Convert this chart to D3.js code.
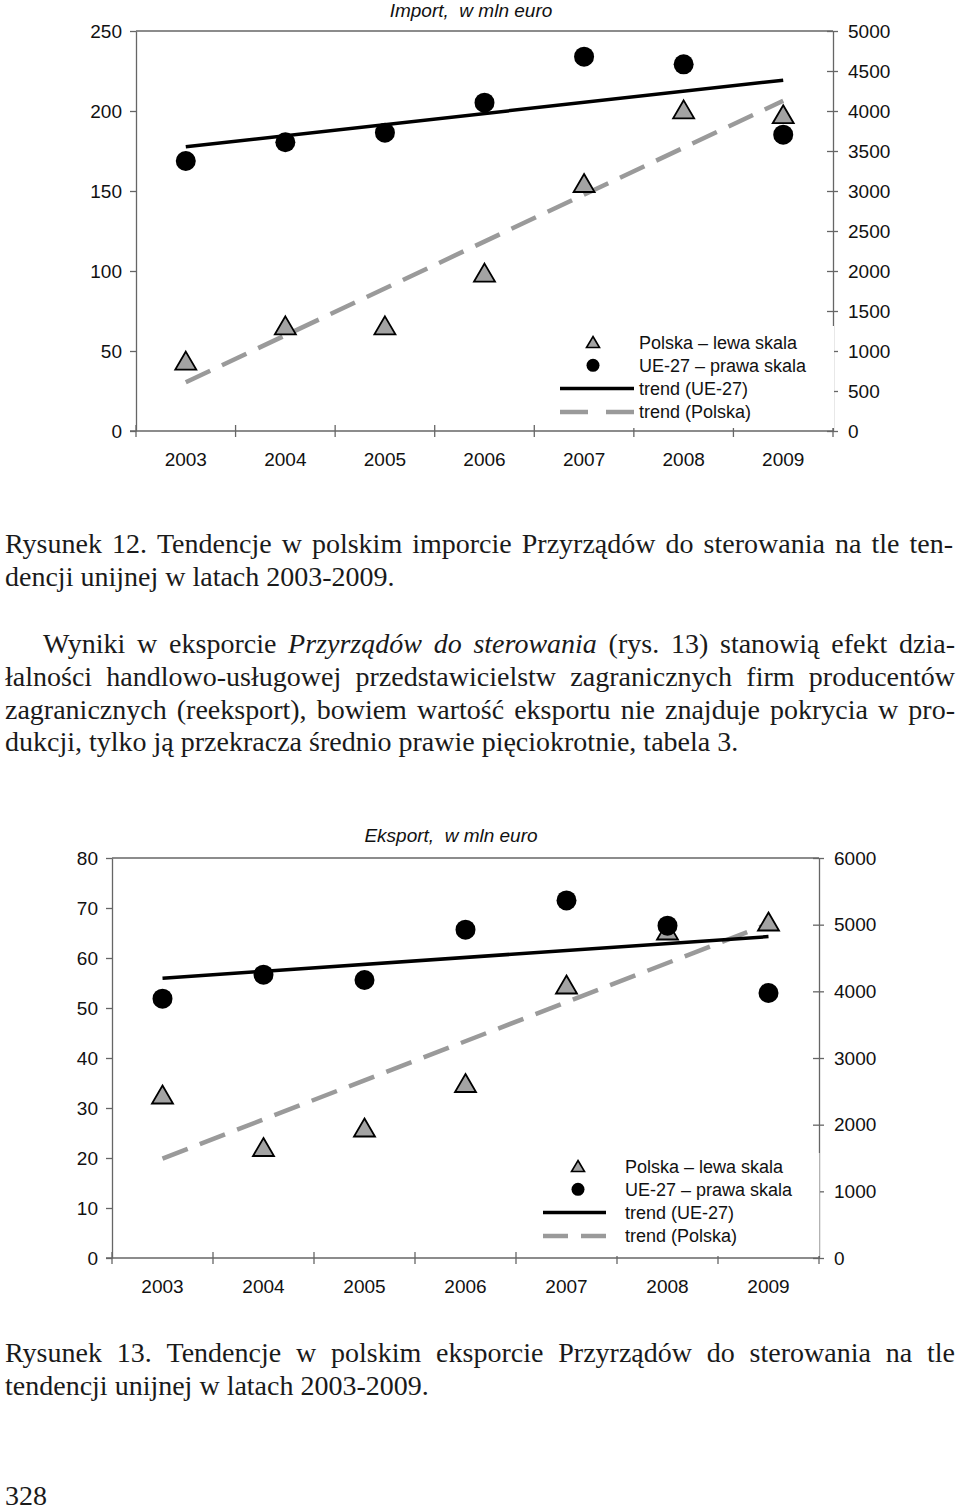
<!DOCTYPE html>
<html>
<head>
<meta charset="utf-8">
<script src="https://cdn.jsdelivr.net/npm/d3@7"></script>
<style>
  body { margin: 0; background: #fff; }
  svg { display: block; }
  .ax text { font-family: "Liberation Sans", Arial, sans-serif; font-size: 19px; fill: #111; }
  .ax path, .ax line { stroke: #666; stroke-width: 1.3; }
</style>
</head>
<body>
<script>
// --- data ---
const years = ["2003", "2004", "2005", "2006", "2007", "2008", "2009"];

const importPolska = [44, 66, 66, 99, 155, 201, 198];
const importUE = [3375, 3609, 3729, 4104, 4679, 4583, 3704];
const importLeftTicks = [0, 50, 100, 150, 200, 250];
const importRightTicks = [0, 500, 1000, 1500, 2000, 2500, 3000, 3500, 4000, 4500, 5000];

const exportPolska = [32.7, 22.2, 26.1, 35, 54.7, 65.5, 67.3];
const exportUE = [3890, 4250, 4170, 4925, 5364, 4985, 3975];
const exportLeftTicks = [0, 10, 20, 30, 40, 50, 60, 70, 80];
const exportRightTicks = [0, 1000, 2000, 3000, 4000, 5000, 6000];

const legendLabels = ["Polska – lewa skala", "UE-27 – prawa skala", "trend (UE-27)", "trend (Polska)"];

const svg = d3.select("body").append("svg").attr("width", 960).attr("height", 1510);
svg.append("rect").attr("width", 960).attr("height", 1510).attr("fill", "#fff");

const triFill = "#a3a3a3";
const dashGray = "#9a9a9a";

function triangle(w, h) {
  return `M0,${-h / 2}L${w / 2},${h / 2}L${-w / 2},${h / 2}Z`;
}

// simple least squares trend, like Excel's linear trendline
function trend(values) {
  const n = values.length;
  const mx = (n - 1) / 2;
  const my = d3.mean(values);
  let num = 0, den = 0;
  values.forEach((v, i) => { num += (i - mx) * (v - my); den += (i - mx) * (i - mx); });
  const b = num / den;
  return [my - b * mx, my + b * (n - 1 - mx)];
}

function drawChart(o) {
  const g = svg.append("g");

  const x = d3.scaleBand().domain(years).range([o.left, o.right]);
  const yL = d3.scaleLinear().domain([0, o.leftTicks[o.leftTicks.length - 1]]).range([o.bottom, o.top]);
  const yR = d3.scaleLinear().domain([0, o.rightTicks[o.rightTicks.length - 1]]).range([o.bottom, o.top]);
  const cx = (d) => x(d) + x.bandwidth() / 2;

  // frame top line
  g.append("line")
    .attr("x1", o.left).attr("x2", o.right)
    .attr("y1", o.top).attr("y2", o.top)
    .attr("stroke", "#666").attr("stroke-width", 1.3);

  // left axis
  g.append("g").attr("class", "ax")
    .attr("transform", `translate(${o.left},0)`)
    .call(d3.axisLeft(yL).tickValues(o.leftTicks).tickFormat(d3.format("d"))
      .tickSize(6).tickSizeOuter(0).tickPadding(8));

  // right axis, ticks cross the line
  const ra = g.append("g").attr("class", "ax")
    .attr("transform", `translate(${o.right},0)`)
    .call(d3.axisRight(yR).tickValues(o.rightTicks).tickFormat(d3.format("d"))
      .tickSize(5).tickSizeOuter(0).tickPadding(10));
  ra.selectAll(".tick line").attr("x1", -6).attr("x2", 5);

  // bottom axis: labels at centres, ticks at category borders
  const ba = g.append("g").attr("class", "ax")
    .attr("transform", `translate(0,${o.bottom})`)
    .call(d3.axisBottom(x).tickSize(0).tickSizeOuter(0).tickPadding(22));
  ba.select(".domain").attr("d", `M${o.left - 6},0H${o.right}`);
  ba.selectAll(".border")
    .data(years.concat(["end"]))
    .join("line")
    .attr("class", "border")
    .attr("x1", (d) => (d === "end" ? o.right : x(d)))
    .attr("x2", (d) => (d === "end" ? o.right : x(d)))
    .attr("y1", -6).attr("y2", 6);

  // title
  g.append("text")
    .attr("x", o.titleX).attr("y", o.titleY)
    .attr("text-anchor", "middle")
    .style("white-space", "pre")
    .attr("font-family", "Liberation Sans, Arial, sans-serif")
    .attr("font-style", "italic")
    .attr("font-size", 19)
    .attr("fill", "#111")
    .text(o.title);

  // trends
  const tUE = trend(o.ue);
  const tPL = trend(o.polska);
  const first = years[0], last = years[years.length - 1];

  g.append("line")
    .attr("x1", cx(first)).attr("x2", cx(last))
    .attr("y1", yL(tPL[0])).attr("y2", yL(tPL[1]))
    .attr("stroke", dashGray).attr("stroke-width", 4.5)
    .attr("stroke-dasharray", "27,13");

  g.append("line")
    .attr("x1", cx(first)).attr("x2", cx(last))
    .attr("y1", yR(tUE[0])).attr("y2", yR(tUE[1]))
    .attr("stroke", "#000").attr("stroke-width", 3.5);

  // Polska triangles (left scale)
  g.selectAll(".tri")
    .data(o.polska)
    .join("path")
    .attr("class", "tri")
    .attr("d", triangle(21, 18))
    .attr("transform", (d, i) => `translate(${cx(years[i])},${yL(d)})`)
    .attr("fill", triFill).attr("stroke", "#000").attr("stroke-width", 1.8);

  // UE-27 circles (right scale)
  g.selectAll(".dot")
    .data(o.ue)
    .join("circle")
    .attr("class", "dot")
    .attr("cx", (d, i) => cx(years[i]))
    .attr("cy", (d) => yR(d))
    .attr("r", 10)
    .attr("fill", "#000");

  // legend
  const L = o.legend;
  g.append("rect")
    .attr("x", L.boxX).attr("y", L.boxY)
    .attr("width", L.boxW).attr("height", L.boxH)
    .attr("fill", "#fff");

  const rowY = (i) => L.y + i * 23.3;
  g.append("path")
    .attr("d", triangle(13, 11))
    .attr("transform", `translate(${L.markX},${rowY(0)})`)
    .attr("fill", triFill).attr("stroke", "#000").attr("stroke-width", 1.6);
  g.append("circle")
    .attr("cx", L.markX).attr("cy", rowY(1)).attr("r", 6.5).attr("fill", "#000");
  g.append("line")
    .attr("x1", L.lineX1).attr("x2", L.lineX2)
    .attr("y1", rowY(2)).attr("y2", rowY(2))
    .attr("stroke", "#000").attr("stroke-width", 3.5);
  g.append("line")
    .attr("x1", L.lineX1).attr("x2", L.lineX2)
    .attr("y1", rowY(3)).attr("y2", rowY(3))
    .attr("stroke", dashGray).attr("stroke-width", 4.5)
    .attr("stroke-dasharray", L.dash);

  g.selectAll(".leg")
    .data(legendLabels)
    .join("text")
    .attr("class", "leg")
    .attr("x", L.textX)
    .attr("y", (d, i) => rowY(i) + 6.5)
    .attr("font-family", "Liberation Sans, Arial, sans-serif")
    .attr("font-size", 18)
    .attr("fill", "#111")
    .text((d) => d);
}

drawChart({
  left: 136, right: 833, top: 31, bottom: 431,
  leftTicks: importLeftTicks, rightTicks: importRightTicks,
  polska: importPolska, ue: importUE,
  title: "Import,  w mln euro", titleX: 471, titleY: 17,
  legend: { boxX: 550, boxY: 326, boxW: 284, boxH: 102, markX: 593, lineX1: 560, lineX2: 634,
    dash: "28,18", textX: 639, y: 342 }
});

drawChart({
  left: 112, right: 819, top: 858, bottom: 1258,
  leftTicks: exportLeftTicks, rightTicks: exportRightTicks,
  polska: exportPolska, ue: exportUE,
  title: "Eksport,  w mln euro", titleX: 451, titleY: 842,
  legend: { boxX: 535, boxY: 1153, boxW: 284.5, boxH: 103, markX: 578, lineX1: 543, lineX2: 606,
    dash: "25,13", textX: 625, y: 1166 }
});

// --- body text (Times-like, justified by words) ---
const serif = "Liberation Serif, Times New Roman, serif";
const textColor = "#1a1a1a";

function textLine(segs, left, right, y, justify) {
  const words = [];
  segs.forEach((s) => {
    s.t.split(" ").filter((w) => w.length).forEach((w) => words.push({ t: w, it: !!s.it }));
  });
  const nodes = words.map((w) =>
    svg.append("text")
      .attr("y", y)
      .attr("font-family", serif)
      .attr("font-size", 28)
      .attr("font-style", w.it ? "italic" : "normal")
      .attr("fill", textColor)
      .text(w.t)
  );
  const widths = nodes.map((n) => n.node().getComputedTextLength());
  const total = d3.sum(widths);
  const gap = justify && words.length > 1 ? (right - left - total) / (words.length - 1) : 7;
  let cur = left;
  nodes.forEach((n, i) => {
    n.attr("x", cur);
    cur += widths[i] + gap;
  });
}

textLine([{ t: "Rysunek 12. Tendencje w polskim imporcie Przyrządów do sterowania na tle ten-" }], 5, 953, 553, true);
textLine([{ t: "dencji unijnej w latach 2003-2009." }], 5, 953, 586, false);

textLine([{ t: "Wyniki w eksporcie " }, { t: "Przyrządów do sterowania", it: true }, { t: " (rys. 13) stanowią efekt dzia-" }], 43, 955, 653, true);
textLine([{ t: "łalności handlowo-usługowej przedstawicielstw zagranicznych firm producentów" }], 5, 955, 686, true);
textLine([{ t: "zagranicznych (reeksport), bowiem wartość eksportu nie znajduje pokrycia w pro-" }], 5, 955, 719, true);
textLine([{ t: "dukcji, tylko ją przekracza średnio prawie pięciokrotnie, tabela 3." }], 5, 955, 751, false);

textLine([{ t: "Rysunek 13. Tendencje w polskim eksporcie Przyrządów do sterowania na tle" }], 5, 955, 1362, true);
textLine([{ t: "tendencji unijnej w latach 2003-2009." }], 5, 955, 1395, false);

textLine([{ t: "328" }], 5, 955, 1505, false);
</script>
</body>
</html>
